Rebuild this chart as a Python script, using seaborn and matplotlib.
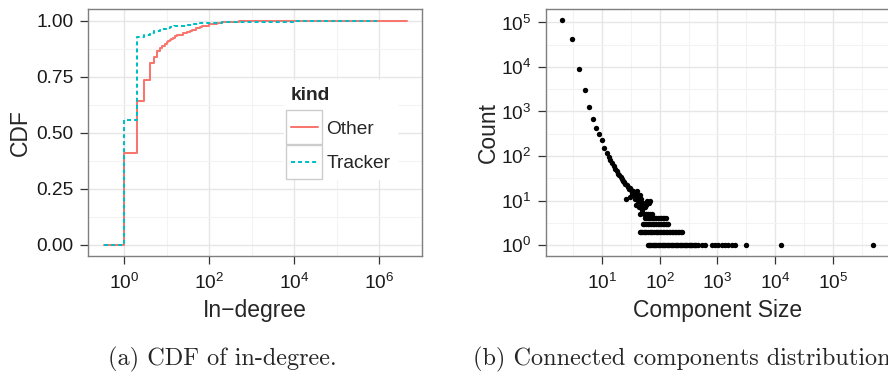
import matplotlib
matplotlib.use("Agg")
import matplotlib.pyplot as plt
from matplotlib.ticker import FixedLocator, FixedFormatter, NullFormatter
from matplotlib.patches import Rectangle
from matplotlib.lines import Line2D
import numpy as np
import pandas as pd
import seaborn as sns

# --- panel (a): CDF of in-degree
other_deg = [0.34, 1, 2, 3, 4, 5, 6, 7, 8, 9, 10, 11, 12, 13, 14, 16, 18, 20, 25, 30, 35, 40, 50, 60,
             70, 80, 100, 120, 150, 200, 300, 500, 1000, 3000, 1e5, 4.6e6]
other_cdf = [0, 0.41, 0.64, 0.735, 0.81, 0.84, 0.865, 0.878, 0.888, 0.897, 0.905, 0.91, 0.915, 0.92,
             0.924, 0.93, 0.934, 0.938, 0.945, 0.95, 0.955, 0.959, 0.966, 0.971, 0.975, 0.978, 0.983,
             0.987, 0.99, 0.993, 0.995, 0.997, 0.998, 0.999, 1.0, 1.0]
tracker_deg = [0.34, 1, 2, 3, 4, 5, 6, 7, 8, 10, 12, 15, 20, 30, 40, 60, 100, 200, 500, 1000, 1e4, 9e5]
tracker_cdf = [0, 0.558, 0.927, 0.937, 0.944, 0.952, 0.956, 0.96, 0.963, 0.968, 0.971, 0.975, 0.978,
               0.982, 0.985, 0.988, 0.991, 0.993, 0.995, 0.996, 0.999, 1.0]
kinds = ["Other", "Tracker"]

# --- panel (b): connected component sizes and how many of each
diag_size = [2, 3, 4, 5, 6, 7, 8, 9, 10, 11, 12, 13, 14, 15, 16, 17, 18, 19, 20, 21, 22, 23, 24, 25, 26,
             27, 28, 29, 30, 31, 32, 33, 34, 35, 36, 37, 38, 39, 40, 41, 42, 43, 44, 45, 47, 48, 49, 50,
             52, 55, 57, 58, 60, 61, 66, 67]
diag_count = [112000, 42000, 8900, 3000, 1240, 680, 420, 305, 225, 150, 116, 97, 82, 69, 60, 52, 45, 40,
              37, 33, 31, 27, 26, 23, 11, 22, 20, 18, 19, 12, 17, 15, 14, 16, 13, 11, 15, 8, 13, 16, 10,
              12, 7, 13, 9, 11, 6, 8, 9, 7, 5, 8, 10, 9, 9, 10]
size_c5 = [46, 53, 57, 63, 69, 74]
size_c4 = [55, 60, 64, 69, 73, 78, 83, 88, 94, 100, 107, 114, 121, 128]
size_c3 = [51, 54, 58, 62, 66, 71, 76, 81, 86, 92, 98, 105, 112, 119, 127, 135, 139]
size_c2 = [46, 48, 50, 53, 56, 59, 63, 67, 71, 75, 80, 85, 90, 95, 101, 107, 113, 120, 127, 135, 143,
           152, 161, 171, 182, 193, 205, 217, 230, 242]
size_c1 = [62, 65, 68, 72, 76, 80, 84, 88, 93, 98, 103, 108, 114, 120, 126, 133, 140, 147, 155, 163, 172,
           181, 190, 200, 211, 222, 234, 246, 259, 272, 286, 301, 317, 334, 351, 369, 388, 408, 430, 470,
           535, 610, 796, 908, 1037, 1186, 1350, 1550, 1770, 2020, 3090, 12500, 500000]

cdf_df = pd.concat([
    pd.DataFrame({"deg": other_deg, "cdf": other_cdf, "kind": "Other"}),
    pd.DataFrame({"deg": tracker_deg, "cdf": tracker_cdf, "kind": "Tracker"}),
])
comp_df = pd.DataFrame({
    "size": diag_size + size_c5 + size_c4 + size_c3 + size_c2 + size_c1,
    "count": diag_count + [5] * len(size_c5) + [4] * len(size_c4) + [3] * len(size_c3)
             + [2] * len(size_c2) + [1] * len(size_c1),
})

sns.set_theme(style="white")
plt.rcParams["font.family"] = ["Liberation Sans", "DejaVu Sans"]
plt.rcParams["mathtext.fontset"] = "custom"
plt.rcParams["mathtext.rm"] = "Liberation Sans"
plt.rcParams["mathtext.it"] = "Liberation Sans:italic"

colors = {"Other": "#F8766D", "Tracker": "#00BFC4"}
TICK = 13.8
TITLE = 16.5
LW = 1.45

fig = plt.figure(figsize=(8.88, 3.75), dpi=100)
W, H = 888, 375
ax1 = fig.add_axes([88 / W, 1 - 256 / H, 334 / W, 247 / H])
ax2 = fig.add_axes([546 / W, 1 - 256 / H, 343 / W, 247 / H])


def bw_style(ax):
    ax.set_facecolor("white")
    for s in ax.spines.values():
        s.set_color("#7F7F7F")
        s.set_linewidth(1.0)
    ax.grid(True, which="major", color="#E6E6E6", linewidth=1.0)
    ax.grid(True, which="minor", color="#F3F3F3", linewidth=0.8)
    ax.set_axisbelow(True)
    ax.tick_params(which="major", length=5.5, width=0.9, color="#333333", pad=5,
                   labelsize=TICK, labelcolor="#1A1A1A", direction="out",
                   bottom=True, left=True)
    ax.tick_params(axis="x", which="major", pad=7)
    ax.tick_params(which="minor", length=0, bottom=False, left=False)


# panel (a)
ax1.set_xscale("log")
sns.lineplot(data=cdf_df, x="deg", y="cdf", hue="kind", style="kind", hue_order=kinds,
             style_order=kinds, palette=colors, dashes={"Other": "", "Tracker": (2, 1.5)},
             drawstyle="steps-post", estimator=None, linewidth=LW, legend=False, ax=ax1)
ax1.set_xlim(10 ** -0.847, 10 ** 7.01)
ax1.set_ylim(-0.05, 1.052)
ax1.xaxis.set_major_locator(FixedLocator([1, 1e2, 1e4, 1e6]))
ax1.xaxis.set_major_formatter(FixedFormatter([r"$10^{0}$", r"$10^{2}$", r"$10^{4}$", r"$10^{6}$"]))
ax1.xaxis.set_minor_locator(FixedLocator([1e-1, 1e1, 1e3, 1e5, 1e7]))
ax1.xaxis.set_minor_formatter(NullFormatter())
ax1.yaxis.set_major_locator(FixedLocator([0, 0.25, 0.5, 0.75, 1.0]))
ax1.yaxis.set_major_formatter(FixedFormatter(["0.00", "0.25", "0.50", "0.75", "1.00"]))
ax1.yaxis.set_minor_locator(FixedLocator([0.125, 0.375, 0.625, 0.875]))
bw_style(ax1)
ax1.set_xlabel("In\u2212degree", fontsize=TITLE, labelpad=4)
ax1.set_ylabel("CDF", fontsize=TITLE, labelpad=3)

handles = [Line2D([], [], color=colors["Other"], lw=LW),
           Line2D([], [], color=colors["Tracker"], lw=LW, dashes=(2, 1.5))]
leg = ax1.legend(handles, kinds, title="kind", loc="upper left",
                 bbox_to_anchor=(284 / W, 1 - 80 / H), bbox_transform=fig.transFigure,
                 fontsize=TICK, title_fontproperties={"weight": "bold", "size": TICK},
                 alignment="left", frameon=True, facecolor="white", edgecolor="white",
                 framealpha=1, fancybox=False, handlelength=1.4, handletextpad=0.45,
                 labelspacing=0.88, borderpad=0.35, borderaxespad=0)

# panel (b)
ax2.set_xscale("log")
ax2.set_yscale("log")
sns.scatterplot(data=comp_df, x="size", y="count", color="black", s=15, linewidth=0, ax=ax2)
ax2.set_xlim(10 ** 0.0295, 10 ** 5.974)
ax2.set_ylim(10 ** -0.247, 10 ** 5.303)
ax2.xaxis.set_major_locator(FixedLocator([1e1, 1e2, 1e3, 1e4, 1e5]))
ax2.xaxis.set_major_formatter(FixedFormatter([r"$10^{%d}$" % k for k in range(1, 6)]))
ax2.xaxis.set_minor_locator(FixedLocator([10 ** (k + 0.5) for k in range(0, 6)]))
ax2.xaxis.set_minor_formatter(NullFormatter())
ax2.yaxis.set_major_locator(FixedLocator([10.0 ** k for k in range(0, 6)]))
ax2.yaxis.set_major_formatter(FixedFormatter([r"$10^{%d}$" % k for k in range(0, 6)]))
ax2.yaxis.set_minor_locator(FixedLocator([10 ** (k + 0.5) for k in range(0, 5)]))
ax2.yaxis.set_minor_formatter(NullFormatter())
bw_style(ax2)
ax2.set_xlabel("Component Size", fontsize=TITLE, labelpad=4)
ax2.set_ylabel("Count", fontsize=TITLE, labelpad=1)

# grey key boxes like ggplot legend keys
fig.canvas.draw()
renderer = fig.canvas.get_renderer()
inv = fig.transFigure.inverted()
for h in leg.legend_handles:
    bb = h.get_window_extent(renderer)
    cy = (bb.y0 + bb.y1) / 2
    x0, y0 = inv.transform((bb.x0 - 4.5, cy - 17))
    x1, y1 = inv.transform((bb.x1 + 4.0, cy + 17))
    fig.add_artist(Rectangle((x0, y0), x1 - x0, y1 - y0, transform=fig.transFigure,
                             fill=False, edgecolor="#CCCCCC", linewidth=1.0, zorder=10))

cap = dict(fontsize=17.5, family=["cmr10", "DejaVu Serif"], va="baseline")
fig.text(222 / W, 1 - 365 / H, "(a) CDF of in-degree.", ha="center", **cap)
fig.text(473 / W, 1 - 365 / H, "(b) Connected components distribution.", ha="left", **cap)

fig.savefig("out.png", dpi=100)
